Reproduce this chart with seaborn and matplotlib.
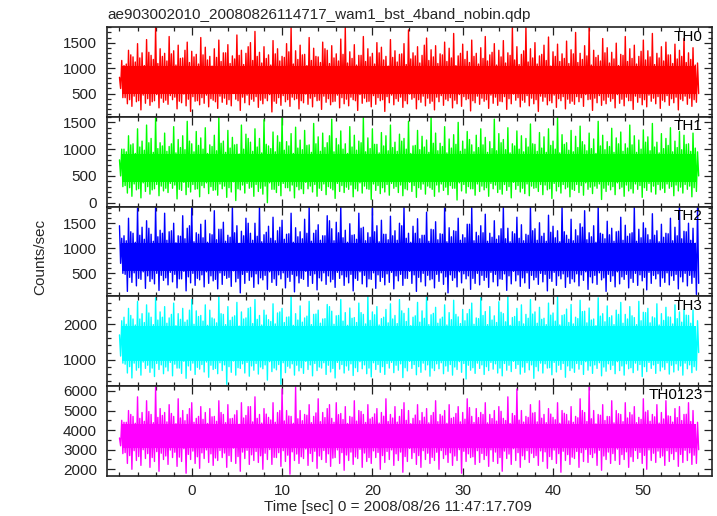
import numpy as np
import pandas as pd
import matplotlib
matplotlib.use("Agg")
import matplotlib.pyplot as plt
from matplotlib.ticker import MultipleLocator
import seaborn as sns

# ---------------- data ----------------
title = "ae903002010_20080826114717_wam1_bst_4band_nobin.qdp"
channels = ["TH0", "TH1", "TH2", "TH3", "TH0123"]
colors = ["#ff0000", "#00ff00", "#0000ff", "#00ffff", "#ff00ff"]
t_start = -8.0   # first time bin of the light curve [sec]
t_step = 0.5     # spacing of the "A" bins [sec]; "B" bins lie half way between

# Light curves as per-bin extremes.
#   *_peak  : maximum in A bins      *_lower : minimum in A bins
#   *_upper : maximum in B bins      *_trough: minimum in B bins
th0_peak = [820, 1050, 1350, 1220, 1480, 1300, 1560, 1250, 1800, 1380,
            1290, 1620, 1340, 1450, 1200, 1510, 1330, 1270, 1600, 1410,
            1230, 1380, 1550, 1300, 1460, 1240, 1650, 1350, 1290, 1500,
            1720, 1310, 1420, 1260, 1540, 1380, 1230, 1480, 1800, 1340,
            1450, 1270, 1600, 1390, 1220, 1510, 1350, 1440, 1280, 1570,
            1800, 1320, 1460, 1250, 1620, 1380, 1290, 1500, 1410, 1230,
            1560, 1340, 1270, 1480, 1750, 1300, 1420, 1250, 1590, 1360,
            1440, 1280, 1510, 1390, 1680, 1240, 1470, 1330, 1550, 1290,
            1400, 1620, 1260, 1480, 1350, 1540, 1300, 1800, 1420, 1270,
            1800, 1380, 1500, 1240, 1450, 1610, 1320, 1470, 1280, 1530,
            1360, 1700, 1290, 1440, 1800, 1350, 1250, 1580, 1400, 1310,
            1490, 1270, 1620, 1380, 1450, 1230, 1550, 1340, 1680, 1290,
            1420, 1510, 1260, 1470, 1350, 1580, 1300, 1400, 1100]
th0_lower = [600, 420, 380, 450, 360, 470, 400, 340, 480, 410,
             370, 460, 430, 350, 490, 390, 440, 360, 420, 470,
             400, 340, 450, 410, 380, 500, 360, 430, 470, 390,
             440, 370, 410, 480, 350, 420, 460, 380, 430, 400,
             360, 490, 410, 440, 370, 450, 400, 340, 470, 420,
             390, 430, 360, 480, 410, 350, 460, 420, 380, 440,
             470, 400, 430, 360, 490, 420, 380, 450, 410, 350,
             430, 460, 390, 420, 370, 480, 440, 400, 360, 450,
             410, 380, 470, 430, 350, 440, 400, 490, 420, 370,
             460, 410, 380, 450, 430, 360, 470, 400, 440, 390,
             350, 440, 420, 480, 390, 410, 460, 370, 430, 400,
             480, 390, 430, 360, 450, 420, 380, 470, 410, 440,
             370, 460, 400, 430, 390, 450, 410, 380, 500]
th0_upper = [1150, 1080, 1260, 1120, 1200, 1050, 1310, 1170, 1090, 1230,
             1140, 1280, 1060, 1190, 1350, 1110, 1220, 1080, 1260, 1160,
             1040, 1210, 1130, 1300, 1090, 1180, 1250, 1070, 1420, 1150,
             1230, 1100, 1190, 1060, 1280, 1140, 1210, 1320, 1080, 1170,
             1260, 1050, 1150, 1230, 1110, 1380, 1090, 1200, 1140, 1270,
             1100, 1190, 1060, 1250, 1130, 1220, 1080, 1300, 1160, 1040,
             1210, 1120, 1280, 1070, 1180, 1240, 1100, 1450, 1150, 1220,
             1090, 1260, 1130, 1200, 1050, 1290, 1170, 1110, 1230, 1080,
             1190, 1140, 1310, 1060, 1220, 1100, 1250, 1160, 1070, 1340,
             1120, 1200, 1080, 1270, 1150, 1040, 1230, 1130, 1190, 1090,
             1280, 1110, 1170, 1240, 1060, 1210, 1140, 1300, 1100, 1180,
             1050, 1250, 1130, 1190, 1080, 1330, 1160, 1220, 1070, 1200,
             1140, 1260, 1090, 1180, 1230, 1110, 1170, 1060]
th0_trough = [420, 300, 250, 340, 180, 310, 270, 360, 220, 330,
              290, 380, 200, 320, 260, 150, 350, 280, 310, 240,
              370, 210, 330, 290, 260, 390, 170, 320, 280, 350,
              230, 300, 360, 140, 310, 270, 340, 250, 380, 200,
              320, 290, 240, 360, 190, 330, 280, 350, 220, 300,
              260, 380, 170, 310, 340, 240, 290, 360, 150, 320,
              280, 350, 230, 300, 390, 200, 330, 260, 310, 180,
              340, 270, 360, 220, 300, 250, 380, 160, 320, 290,
              350, 210, 310, 270, 340, 190, 300, 370, 240, 330,
              260, 300, 150, 350, 280, 320, 230, 360, 200, 310,
              290, 340, 250, 380, 170, 320, 270, 300, 350, 220,
              310, 260, 360, 190, 330, 280, 240, 350, 300, 210,
              340, 270, 320, 180, 360, 290, 250, 330]

th1_peak = [800, 1000, 1250, 1100, 1380, 1150, 1450, 1200, 1600, 1120,
            1300, 1050, 1420, 1180, 1250, 1520, 1100, 1330, 1210, 1400,
            1080, 1260, 1600, 1150, 1350, 1220, 1090, 1450, 1280, 1130,
            1380, 1200, 1550, 1060, 1320, 1250, 1600, 1140, 1290, 1410,
            1170, 1350, 1080, 1480, 1230, 1300, 1120, 1560, 1200, 1340,
            1100, 1420, 1260, 1150, 1600, 1210, 1380, 1090, 1310, 1250,
            1450, 1130, 1280, 1200, 1520, 1060, 1350, 1240, 1170, 1600,
            1300, 1110, 1420, 1190, 1270, 1500, 1150, 1330, 1080, 1260,
            1380, 1220, 1140, 1560, 1290, 1180, 1400, 1100, 1340, 1250,
            1200, 1470, 1090, 1310, 1230, 1380, 1150, 1600, 1270, 1120,
            1350, 1240, 1430, 1080, 1300, 1190, 1520, 1260, 1140, 1390,
            1210, 1320, 1100, 1450, 1250, 1170, 1360, 1230, 1480, 1130,
            1290, 1200, 1400, 1150, 1330, 1260, 1100, 1300, 950]
th1_lower = [500, 320, 280, 350, 260, 370, 300, 240, 340, 310,
             270, 360, 330, 250, 380, 290, 340, 260, 320, 370,
             300, 240, 350, 310, 280, 390, 260, 330, 360, 290,
             340, 270, 310, 370, 250, 320, 360, 280, 330, 300,
             260, 380, 310, 340, 270, 350, 300, 240, 360, 320,
             290, 330, 260, 370, 310, 250, 350, 320, 280, 340,
             360, 300, 330, 260, 380, 320, 280, 350, 310, 250,
             330, 350, 290, 320, 270, 370, 340, 300, 260, 350,
             310, 280, 360, 330, 250, 340, 300, 380, 320, 270,
             350, 310, 280, 340, 330, 260, 360, 300, 340, 290,
             250, 340, 320, 370, 290, 310, 350, 270, 330, 300,
             370, 290, 330, 260, 350, 320, 280, 360, 310, 340,
             270, 350, 300, 330, 290, 340, 310, 280, 500]
th1_upper = [1000, 950, 1080, 920, 1040, 980, 1120, 940, 1010, 1060,
             960, 1100, 930, 1030, 990, 1150, 950, 1070, 1000, 920,
             1050, 970, 1110, 940, 1020, 1080, 910, 1000, 1200, 960,
             1040, 930, 1090, 1010, 950, 1130, 980, 1060, 920, 1020,
             990, 1070, 940, 1100, 960, 1030, 1250, 950, 1080, 1000,
             920, 1040, 980, 1120, 950, 1010, 1090, 930, 1060, 970,
             1030, 960, 1150, 1000, 920, 1070, 990, 1040, 940, 1110,
             970, 1050, 930, 1020, 1090, 960, 1000, 1180, 950, 1030,
             1080, 940, 1010, 970, 1120, 990, 930, 1060, 1000, 950,
             1040, 1100, 960, 1020, 940, 1070, 1000, 930, 1090, 980,
             950, 1030, 1140, 970, 1010, 920, 1060, 990, 1050, 940,
             1100, 960, 1020, 1080, 940, 1000, 1130, 970, 1040, 930,
             1010, 1070, 950, 1030, 990, 1090, 960, 1020]
th1_trough = [300, 180, 120, 240, 90, 210, 160, 260, 130, 220,
              190, 270, 70, 230, 150, 200, 250, 110, 280, 170,
              230, 140, 260, 100, 200, 40, 240, 180, 270, 120,
              210, 160, 0, 250, 190, 130, 280, 220, 90, 240,
              170, 260, 200, 120, 230, 150, 270, 80, 210, 190,
              250, 110, 220, 180, 260, 60, 230, 170, 200, 140,
              270, 190, 130, 240, 210, 100, 250, 160, 280, 120,
              200, 230, 150, 270, 50, 220, 180, 260, 140, 210,
              240, 120, 260, 190, 160, 230, 90, 250, 200, 170,
              130, 270, 210, 150, 240, 80, 220, 180, 260, 110,
              230, 190, 140, 250, 170, 270, 60, 210, 240, 150,
              260, 120, 220, 180, 250, 100, 230, 200, 160, 240,
              190, 270, 130, 220, 180, 250, 110, 210]

th2_peak = [1450, 1250, 1600, 1300, 1800, 1420, 1550, 1280, 1830, 1360,
            1700, 1330, 1500, 1250, 1650, 1400, 1830, 1310, 1480, 1560,
            1290, 1750, 1380, 1520, 1260, 1830, 1450, 1340, 1600, 1300,
            1500, 1830, 1270, 1440, 1620, 1350, 1560, 1280, 1700, 1410,
            1330, 1580, 1830, 1300, 1470, 1250, 1650, 1390, 1520, 1830,
            1360, 1490, 1270, 1700, 1420, 1310, 1830, 1450, 1560, 1280,
            1640, 1350, 1500, 1830, 1300, 1440, 1590, 1260, 1720, 1380,
            1530, 1290, 1830, 1410, 1350, 1600, 1270, 1480, 1830, 1320,
            1450, 1680, 1300, 1550, 1250, 1830, 1400, 1330, 1620, 1470,
            1280, 1830, 1390, 1510, 1300, 1660, 1440, 1350, 1830, 1260,
            1580, 1370, 1490, 1750, 1310, 1450, 1830, 1280, 1540, 1400,
            1330, 1620, 1460, 1290, 1830, 1380, 1510, 1270, 1690, 1350,
            1480, 1300, 1600, 1420, 1830, 1340, 1500, 1400, 1830]
th2_lower = [700, 480, 420, 510, 400, 530, 450, 390, 500, 460,
             410, 520, 480, 390, 540, 430, 500, 400, 470, 530,
             450, 380, 510, 460, 420, 550, 400, 480, 520, 430,
             490, 410, 460, 530, 390, 470, 510, 420, 480, 450,
             400, 540, 460, 490, 410, 510, 450, 380, 520, 470,
             430, 480, 400, 530, 460, 390, 510, 470, 420, 490,
             520, 450, 480, 400, 540, 470, 420, 500, 460, 390,
             480, 510, 430, 470, 410, 530, 490, 450, 400, 500,
             460, 420, 520, 480, 390, 490, 450, 540, 470, 410,
             510, 460, 420, 500, 480, 400, 520, 450, 490, 430,
             390, 490, 470, 530, 430, 460, 510, 410, 480, 450,
             530, 430, 480, 400, 500, 470, 420, 520, 460, 490,
             410, 510, 450, 480, 430, 500, 460, 420, 300]
th2_upper = [1200, 1150, 1330, 1120, 1260, 1180, 1400, 1140, 1230, 1300,
             1160, 1350, 1110, 1240, 1190, 1450, 1130, 1280, 1210, 1120,
             1270, 1170, 1380, 1140, 1220, 1310, 1100, 1250, 1500, 1160,
             1240, 1130, 1320, 1200, 1150, 1420, 1180, 1290, 1120, 1230,
             1190, 1300, 1140, 1360, 1160, 1250, 1550, 1150, 1310, 1210,
             1120, 1260, 1180, 1400, 1150, 1220, 1330, 1130, 1280, 1170,
             1250, 1160, 1450, 1200, 1120, 1300, 1190, 1260, 1140, 1370,
             1170, 1280, 1130, 1230, 1340, 1160, 1210, 1480, 1150, 1250,
             1310, 1140, 1220, 1180, 1390, 1190, 1130, 1290, 1200, 1150,
             1260, 1350, 1160, 1240, 1140, 1320, 1210, 1130, 1330, 1180,
             1150, 1250, 1420, 1170, 1230, 1120, 1300, 1190, 1270, 1140,
             1340, 1160, 1240, 1310, 1140, 1210, 1400, 1170, 1260, 1130,
             1220, 1290, 1150, 1250, 1190, 1330, 1160, 1100]
th2_trough = [500, 140, 320, 250, 380, 200, 340, 290, 160, 360,
              270, 330, 210, 390, 150, 310, 260, 370, 230, 300,
              350, 190, 280, 400, 240, 330, 110, 300, 360, 220,
              290, 370, 180, 320, 260, 390, 210, 340, 130, 310,
              380, 240, 300, 170, 350, 280, 330, 220, 400, 260,
              310, 150, 360, 290, 230, 380, 200, 340, 270, 320,
              190, 350, 260, 400, 300, 140, 330, 250, 370, 210,
              340, 280, 110, 360, 230, 310, 390, 180, 300, 270,
              360, 220, 330, 250, 380, 160, 290, 350, 240, 310,
              200, 370, 280, 330, 150, 340, 260, 390, 220, 300,
              330, 250, 360, 180, 310, 280, 370, 140, 340, 230,
              290, 380, 210, 320, 260, 350, 170, 300, 390, 240,
              320, 270, 360, 190, 330, 250, 300, 80]

th3_peak = [1700, 2200, 2450, 2150, 2650, 2300, 2550, 2200, 2750, 2350,
            2500, 2180, 2600, 2300, 2450, 2120, 2700, 2380, 2250, 2550,
            2400, 2150, 2790, 2280, 2500, 2200, 2620, 2350, 2180, 2480,
            2700, 2250, 2400, 2130, 2580, 2320, 2450, 2200, 2790, 2300,
            2520, 2180, 2650, 2280, 2400, 2150, 2560, 2370, 2240, 2700,
            2330, 2460, 2190, 2600, 2280, 2790, 2350, 2500, 2160, 2420,
            2580, 2250, 2700, 2310, 2450, 2200, 2620, 2380, 2790, 2270,
            2480, 2150, 2550, 2330, 2680, 2210, 2420, 2300, 2600, 2180,
            2750, 2360, 2500, 2240, 2640, 2300, 2790, 2190, 2450, 2550,
            2280, 2700, 2350, 2480, 2170, 2600, 2320, 2790, 2250, 2430,
            2560, 2200, 2680, 2370, 2460, 2150, 2750, 2300, 2520, 2240,
            2400, 2620, 2280, 2500, 2190, 2650, 2340, 2450, 2210, 2580,
            2300, 2480, 2200, 2550, 2350, 2420, 2250, 2400, 2100]
th3_lower = [1100, 870, 800, 900, 770, 930, 840, 760, 890, 850,
             790, 920, 870, 760, 950, 820, 900, 780, 860, 930,
             840, 750, 910, 850, 800, 960, 770, 880, 920, 820,
             890, 790, 850, 940, 760, 860, 910, 810, 880, 840,
             770, 950, 850, 890, 790, 910, 840, 750, 920, 860,
             820, 880, 770, 940, 850, 760, 910, 860, 800, 890,
             920, 840, 880, 770, 950, 860, 800, 900, 850, 760,
             880, 910, 820, 860, 790, 940, 890, 840, 770, 900,
             850, 800, 920, 880, 760, 890, 840, 950, 860, 790,
             910, 850, 800, 900, 880, 770, 920, 840, 890, 820,
             760, 890, 860, 940, 820, 850, 910, 790, 880, 840,
             940, 820, 880, 770, 900, 860, 800, 920, 850, 890,
             790, 910, 840, 880, 820, 900, 850, 800, 1200]
th3_upper = [2100, 2000, 2250, 1980, 2150, 2050, 2320, 1990, 2120, 2200,
             2030, 2280, 1960, 2140, 2060, 2400, 2000, 2220, 2090, 1970,
             2180, 2040, 2300, 1990, 2110, 2240, 1950, 2150, 2450, 2020,
             2140, 1980, 2260, 2080, 2010, 2350, 2050, 2210, 1970, 2120,
             2060, 2230, 1990, 2290, 2030, 2160, 2500, 2000, 2250, 2090,
             1970, 2170, 2050, 2330, 2010, 2110, 2270, 1980, 2200, 2040,
             2150, 2020, 2380, 2080, 1960, 2240, 2060, 2170, 1990, 2310,
             2030, 2200, 1980, 2130, 2280, 2020, 2100, 2420, 2000, 2160,
             2250, 1990, 2120, 2050, 2340, 2070, 1970, 2220, 2080, 2010,
             2170, 2290, 2030, 2140, 1990, 2260, 2090, 1980, 2270, 2050,
             2010, 2160, 2360, 2040, 2120, 1960, 2230, 2070, 2190, 1990,
             2280, 2030, 2150, 2240, 1990, 2100, 2330, 2040, 2180, 1980,
             2110, 2210, 2010, 2160, 2060, 2260, 2030, 1900]
th3_trough = [900, 620, 480, 700, 560, 750, 640, 520, 720, 600,
              680, 540, 760, 610, 470, 700, 580, 730, 650, 500,
              720, 600, 690, 300, 640, 560, 750, 620, 530, 700,
              590, 740, 420, 660, 710, 300, 630, 760, 560, 680,
              610, 720, 540, 690, 760, 580, 650, 480, 730, 620,
              700, 550, 660, 740, 600, 510, 720, 640, 580, 760,
              630, 700, 490, 680, 750, 570, 640, 710, 530, 690,
              740, 600, 670, 560, 720, 640, 450, 700, 610, 750,
              580, 690, 730, 620, 540, 700, 660, 750, 590, 640,
              710, 470, 680, 620, 760, 570, 650, 720, 500, 690,
              640, 730, 580, 700, 610, 750, 540, 670, 720, 600,
              690, 560, 740, 630, 700, 520, 660, 750, 610, 680,
              720, 590, 650, 700, 560, 740, 630, 700]

th0123_peak = [3600, 4400, 5000, 4700, 5700, 4900, 5500, 4800, 6200, 5100,
               4900, 5300, 4700, 5600, 5000, 4800, 5400, 4600, 5200, 4900,
               5100, 4700, 5500, 4800, 5300, 4600, 5000, 5400, 4750, 5200,
               5700, 4800, 5100, 4650, 5400, 4900, 6100, 5000, 4700, 6200,
               5000, 4800, 5300, 4700, 5600, 4900, 5100, 4600, 5400, 4850,
               5200, 4700, 5500, 5000, 4800, 5300, 4650, 5100, 4900, 5600,
               4800, 5200, 4700, 5400, 5000, 4600, 5300, 4900, 5100, 4750,
               5500, 4800, 5000, 5300, 4650, 5200, 4900, 5600, 4700, 5100,
               4900, 5400, 4800, 5000, 5200, 4600, 5700, 4850, 6100, 5000,
               4700, 5300, 4900, 5500, 4800, 5100, 4650, 5400, 5000, 4800,
               5200, 4700, 5600, 4900, 6200, 5000, 4800, 5300, 4700, 5500,
               5000, 4800, 5400, 4900, 5200, 4650, 5600, 5000, 4800, 5300,
               4900, 5500, 4700, 5100, 5200, 4800, 5400, 5000, 4400]
th0123_lower = [3200, 2850, 2700, 2950, 2650, 3000, 2800, 2600, 2900, 2820,
                2680, 2980, 2870, 2620, 3050, 2760, 2930, 2640, 2840, 2990,
                2790, 2580, 2960, 2830, 2700, 3080, 2650, 2880, 2970, 2740,
                2910, 2690, 2820, 3010, 2610, 2850, 2950, 2720, 2890, 2780,
                2640, 3040, 2810, 2920, 2680, 2960, 2790, 2570, 2990, 2850,
                2730, 2880, 2630, 3020, 2830, 2600, 2940, 2860, 2700, 2910,
                2990, 2790, 2880, 2650, 3060, 2850, 2700, 2950, 2820, 2610,
                2870, 2960, 2740, 2840, 2680, 3000, 2920, 2790, 2640, 2950,
                2810, 2700, 2990, 2880, 2600, 2930, 2780, 3050, 2850, 2690,
                2950, 2820, 2700, 2940, 2890, 2650, 2980, 2800, 2920, 2750,
                2620, 2910, 2850, 3010, 2760, 2830, 2970, 2680, 2880, 2800,
                3030, 2750, 2890, 2640, 2960, 2860, 2710, 2990, 2820, 2930,
                2680, 2950, 2800, 2900, 2760, 2970, 2840, 2720, 3000]
th0123_upper = [4500, 4400, 4800, 4350, 4600, 4450, 4950, 4380, 4650, 4750,
                4420, 4850, 4330, 4620, 4480, 5100, 4400, 4700, 4550, 4340,
                4680, 4450, 4900, 4380, 4580, 4780, 4300, 4620, 5200, 4420,
                4600, 4360, 4820, 4520, 4400, 5000, 4470, 4720, 4350, 4580,
                4480, 4760, 4380, 4880, 4430, 4640, 5300, 4400, 4790, 4540,
                4340, 4660, 4460, 4950, 4390, 4570, 4830, 4360, 4710, 4440,
                4620, 4410, 5050, 4500, 4330, 4770, 4480, 4660, 4370, 4900,
                4430, 4720, 4350, 4600, 4850, 4420, 4560, 5150, 4390, 4640,
                4800, 4370, 4590, 4460, 4960, 4490, 4340, 4740, 4510, 4410,
                4650, 4870, 4420, 4610, 4380, 4820, 4530, 4350, 4860, 4470,
                4400, 4630, 5000, 4440, 4580, 4320, 4760, 4490, 4690, 4370,
                4840, 4430, 4620, 4780, 4380, 4550, 4920, 4450, 4680, 4360,
                4570, 4730, 4410, 4640, 4490, 4810, 4440, 4200]
th0123_trough = [2800, 2300, 2000, 2450, 2200, 2550, 2100, 2400, 1900, 2500,
                 2250, 2600, 2150, 2400, 1800, 2500, 2300, 2050, 2550, 2350,
                 2200, 2450, 2600, 2100, 2400, 2300, 1900, 2550, 2250, 2450,
                 2350, 2000, 2500, 2250, 2600, 2150, 2400, 1750, 2450, 2300,
                 2550, 2200, 2400, 2050, 2500, 2350, 2150, 2600, 2300, 1950,
                 2450, 2250, 2550, 2100, 2400, 2300, 2600, 2000, 2350, 2500,
                 2200, 2450, 1850, 2400, 2550, 2250, 2100, 2500, 2300, 2450,
                 2000, 2550, 2350, 2200, 2450, 1800, 2400, 2600, 2250, 2350,
                 2500, 2150, 2400, 2300, 1900, 2550, 2250, 2450, 2100, 2500,
                 2350, 2600, 2200, 2400, 2050, 2500, 2300, 1850, 2450, 2250,
                 2550, 2100, 2400, 2350, 2600, 2200, 1950, 2500, 2300, 2450,
                 2250, 2500, 2100, 2400, 2550, 2300, 2000, 2450, 2350, 2600,
                 2200, 2400, 2500, 2150, 2350, 2450, 2250, 2300]

# range that every bin spans (the solid middle of each band)
th0_core = [500, 1040]
th1_core = [380, 910]
th2_core = [550, 1100]
th3_core = [960, 1950]
th0123_core = [3080, 4300]

peaks = [th0_peak, th1_peak, th2_peak, th3_peak, th0123_peak]
lowers = [th0_lower, th1_lower, th2_lower, th3_lower, th0123_lower]
uppers = [th0_upper, th1_upper, th2_upper, th3_upper, th0123_upper]
troughs = [th0_trough, th1_trough, th2_trough, th3_trough, th0123_trough]
cores = [th0_core, th1_core, th2_core, th3_core, th0123_core]

y_limits = [(40, 1800), (-75, 1600), (40, 1830), (250, 2790), (1670, 6250)]
y_major = [500, 500, 500, 1000, 1000]
y_minor = [100, 100, 100, 200, 500]


def light_curve(peak, lower, upper, trough):
    """Per-bin max then min, bins in time order -> one polyline."""
    na = min(len(peak), len(lower))
    nb = min(len(upper), len(trough))
    ta = t_start + t_step * np.arange(na)
    tb = t_start + t_step * (0.5 + np.arange(nb))
    bins = pd.DataFrame({
        "t": np.concatenate([ta, tb]),
        "vmax": np.concatenate([peak[:na], upper[:nb]]),
        "vmin": np.concatenate([lower[:na], trough[:nb]]),
    }).sort_values("t")
    quarter = t_step / 4
    pts = pd.DataFrame({
        "time": np.column_stack([bins["t"].to_numpy(),
                                 bins["t"].to_numpy() + quarter]).ravel(),
        "rate": np.column_stack([bins["vmax"].to_numpy(),
                                 bins["vmin"].to_numpy()]).ravel(),
    })
    return pts


# ---------------- figure ----------------
sns.set_style("ticks")
plt.rcParams["font.family"] = ["Liberation Sans", "DejaVu Sans"]
plt.rcParams["axes.linewidth"] = 1.2
plt.rcParams["path.simplify"] = False      # keep every vertex of the dense curve

fig = plt.figure(figsize=(7.17, 5.16), dpi=100)
axes = fig.subplots(5, 1, sharex=True, gridspec_kw=dict(hspace=0))
fig.subplots_adjust(left=0.149, right=0.993, top=0.947, bottom=0.078)

for ax, name, col, pk, lw_, up, tr, core, ylim, ymaj, ymin in zip(
        axes, channels, colors, peaks, lowers, uppers, troughs, cores,
        y_limits, y_major, y_minor):
    df = light_curve(pk, lw_, up, tr)
    t0, t1 = df["time"].min(), df["time"].max()
    ax.fill_between([t0 + 0.3, t1 - 0.3], core[0], core[1], color=col, lw=0,
                    zorder=1)
    sns.lineplot(data=df, x="time", y="rate", ax=ax, color=col, lw=1.0,
                 estimator=None, sort=False, zorder=2)
    ax.set_ylim(*ylim)
    ax.set_xlim(-9.4, 57.6)
    ax.yaxis.set_major_locator(MultipleLocator(ymaj))
    ax.yaxis.set_minor_locator(MultipleLocator(ymin))
    ax.xaxis.set_major_locator(MultipleLocator(10))
    ax.xaxis.set_minor_locator(MultipleLocator(2))
    ax.tick_params(which="both", direction="in", top=True, right=True,
                   labelsize=11, colors="#222222", width=0.9)
    ax.tick_params(which="major", length=6, pad=7)
    ax.tick_params(which="minor", length=3)
    ax.set_xlabel("")
    ax.set_ylabel("")
    for s in ax.spines.values():
        s.set_color("#222222")
    ax.text(0.985, 0.975, name, transform=ax.transAxes, ha="right", va="top",
            fontsize=11, color="black", zorder=5)

axes[-1].tick_params(axis="x", which="major", pad=6)

fig.text(107 / 717, 1 - 15 / 516, title, ha="left", va="center", fontsize=11)
fig.text(40 / 717, 1 - 257 / 516, "Counts/sec", rotation=90, ha="center",
         va="center", fontsize=11)
fig.text(398 / 717, 1 - 507 / 516, "Time [sec] 0 = 2008/08/26 11:47:17.709",
         ha="center", va="center", fontsize=11)

fig.savefig("out.png", dpi=100)
